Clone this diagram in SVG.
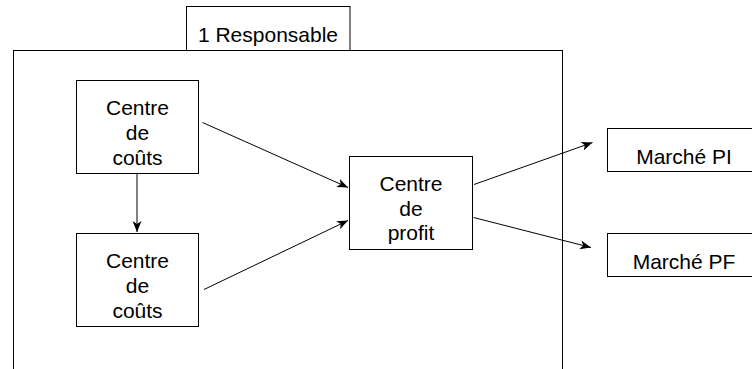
<svg xmlns="http://www.w3.org/2000/svg" width="752" height="369" viewBox="0 0 752 369">
<style>
.box{fill:#fff;stroke:#000;stroke-width:1}
.t{font-family:"Liberation Sans",Arial,sans-serif;font-size:21px;fill:#000;text-anchor:middle}
.c{stroke:#000;stroke-width:1;fill:none;marker-end:url(#arr)}
</style>
<defs>
<marker id="arr" markerUnits="userSpaceOnUse" markerWidth="12" markerHeight="10" refX="11" refY="5" orient="auto">
<path d="M0,0.5 L11,5 L0,9.5 L3,5 z" fill="#000"/>
</marker>
</defs>
<rect width="752" height="369" fill="#fff"/>
<g id="responsable">
<rect class="box" x="186.5" y="6.5" width="163.5" height="44"/>
<text class="t" x="268" y="41.5">1 Responsable</text>
</g>
<g id="zone">
<rect class="box" x="13.5" y="50.5" width="549" height="340" fill="none" style="fill:none"/>
</g>
<g id="cdc1">
<rect class="box" x="76.5" y="80.5" width="122" height="93"/>
<text class="t" x="137.5" y="114.5">Centre</text>
<text class="t" x="137.5" y="140">de</text>
<text class="t" x="137.5" y="165">coûts</text>
</g>
<g id="cdc2">
<rect class="box" x="76.5" y="233.5" width="122" height="93"/>
<text class="t" x="137.5" y="267.5">Centre</text>
<text class="t" x="137.5" y="292.5">de</text>
<text class="t" x="137.5" y="317.5">coûts</text>
</g>
<g id="profit">
<rect class="box" x="349.5" y="156.5" width="123" height="93"/>
<text class="t" x="411" y="190.5">Centre</text>
<text class="t" x="411" y="215.5">de</text>
<text class="t" x="411" y="240">profit</text>
</g>
<g id="marchePI">
<rect class="box" x="607.5" y="128.5" width="160" height="43"/>
<text class="t" x="684" y="163.5">Marché PI</text>
</g>
<g id="marchePF">
<rect class="box" x="607.5" y="233.5" width="160" height="43"/>
<text class="t" x="684" y="268.5">Marché PF</text>
</g>
<g id="connectors">
<line class="c" x1="202.5" y1="122.5" x2="348" y2="187.5"/>
<line class="c" x1="204" y1="289.5" x2="348" y2="220.5"/>
<line class="c" x1="137" y1="173.5" x2="137" y2="232"/>
<line class="c" x1="474" y1="184.5" x2="592.5" y2="142.5"/>
<line class="c" x1="473.5" y1="217.5" x2="591" y2="247.5"/>
</g>
</svg>
